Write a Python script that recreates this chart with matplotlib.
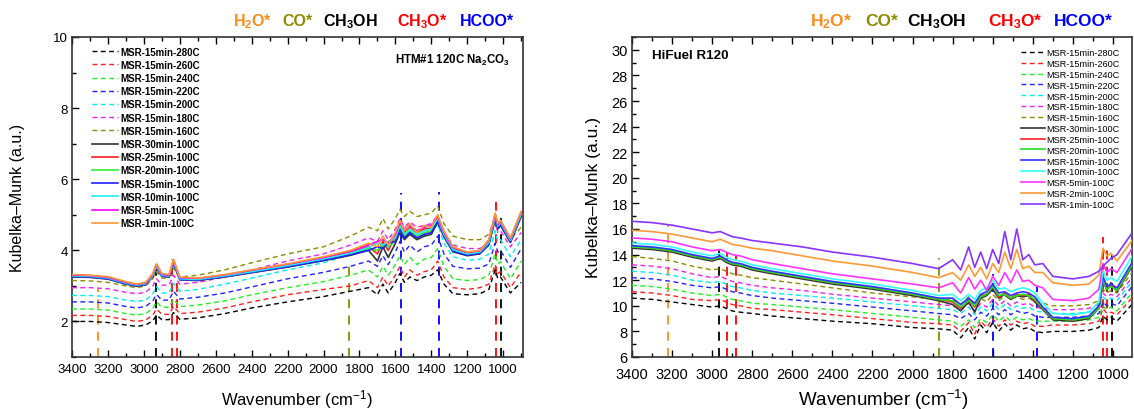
import matplotlib.pyplot as plt
from matplotlib.ticker import MultipleLocator

plt.rcParams['font.family'] = ['Liberation Sans', 'DejaVu Sans']
plt.rcParams['mathtext.fontset'] = 'custom'
plt.rcParams['mathtext.rm'] = 'Liberation Sans'
plt.rcParams['mathtext.bf'] = 'Liberation Sans:bold'
plt.rcParams['mathtext.it'] = 'Liberation Sans:italic'

# ---------------- left panel: HTM#1 120C Na2CO3 ----------------
wn_left = [3400, 3300, 3200, 3100, 3040, 2990, 2950, 2930, 2900, 2860,
           2835, 2800, 2700, 2550, 2400, 2200, 2000, 1850, 1750, 1700,
           1670, 1640, 1600, 1575, 1550, 1520, 1480, 1440, 1400, 1365,
           1330, 1280, 1200, 1130, 1080, 1045, 1030, 1015, 960, 900]

htm_15min_280C = [2.00, 2.00, 1.97, 1.90, 1.86, 1.90, 2.02, 2.18, 2.05, 2.05, 2.25, 2.06, 2.10, 2.22, 2.38, 2.55, 2.70, 2.85, 2.95, 2.75,
                  3.05, 2.80, 3.10, 3.35, 3.10, 3.25, 3.15, 3.25, 3.30, 3.45, 3.05, 2.78, 2.75, 2.78, 2.90, 3.45, 3.20, 3.25, 2.80, 3.10]
htm_15min_260C = [2.17, 2.17, 2.14, 2.05, 2.00, 2.04, 2.18, 2.35, 2.20, 2.20, 2.42, 2.22, 2.26, 2.38, 2.55, 2.75, 2.90, 3.00, 3.15, 2.95,
                  3.25, 3.00, 3.30, 3.55, 3.25, 3.45, 3.30, 3.40, 3.45, 3.70, 3.25, 2.95, 2.90, 2.95, 3.05, 3.60, 3.35, 3.40, 2.95, 3.40]
htm_15min_240C = [2.35, 2.35, 2.32, 2.22, 2.18, 2.22, 2.37, 2.55, 2.40, 2.40, 2.62, 2.42, 2.46, 2.58, 2.75, 2.95, 3.12, 3.30, 3.45, 3.25,
                  3.55, 3.30, 3.60, 3.85, 3.60, 3.80, 3.60, 3.75, 3.80, 4.05, 3.55, 3.20, 3.15, 3.18, 3.30, 3.90, 3.62, 3.68, 3.20, 3.70]
htm_15min_220C = [2.55, 2.55, 2.52, 2.42, 2.38, 2.42, 2.58, 2.76, 2.60, 2.60, 2.85, 2.63, 2.68, 2.80, 2.97, 3.20, 3.38, 3.55, 3.70, 3.55,
                  3.85, 3.60, 3.95, 4.25, 3.95, 4.15, 3.95, 4.10, 4.15, 4.40, 3.90, 3.55, 3.48, 3.50, 3.62, 4.20, 3.95, 4.00, 3.52, 4.05]
htm_15min_200C = [2.73, 2.73, 2.70, 2.60, 2.56, 2.60, 2.78, 2.98, 2.80, 2.80, 3.08, 2.85, 2.90, 3.05, 3.22, 3.45, 3.65, 3.88, 4.05, 3.95,
                  4.20, 4.00, 4.30, 4.60, 4.35, 4.50, 4.35, 4.40, 4.45, 4.75, 4.20, 3.82, 3.72, 3.75, 3.90, 4.55, 4.25, 4.30, 3.82, 4.30]
htm_15min_180C = [2.95, 2.95, 2.92, 2.82, 2.78, 2.82, 3.00, 3.20, 3.02, 3.02, 3.30, 3.05, 3.10, 3.25, 3.45, 3.70, 3.90, 4.15, 4.35, 4.25,
                  4.55, 4.30, 4.60, 4.90, 4.65, 4.80, 4.65, 4.70, 4.75, 5.00, 4.50, 4.15, 4.05, 4.05, 4.20, 4.80, 4.50, 4.55, 4.10, 4.50]
htm_15min_160C = [3.15, 3.14, 3.10, 3.00, 2.95, 3.00, 3.20, 3.40, 3.22, 3.22, 3.50, 3.25, 3.30, 3.45, 3.65, 3.90, 4.10, 4.40, 4.65, 4.55,
                  4.90, 4.60, 4.90, 5.15, 4.95, 5.10, 4.95, 5.00, 5.05, 5.25, 4.75, 4.40, 4.30, 4.30, 4.45, 4.95, 4.70, 4.75, 4.30, 4.65]
htm_30min_100C = [3.25, 3.24, 3.19, 3.05, 2.99, 3.03, 3.27, 3.50, 3.27, 3.25, 3.62, 3.17, 3.15, 3.25, 3.37, 3.53, 3.71, 3.86, 4.00, 3.70,
                  4.10, 3.80, 4.20, 4.50, 4.30, 4.45, 4.30, 4.40, 4.45, 4.80, 4.38, 3.96, 3.85, 3.90, 4.15, 4.88, 4.60, 4.70, 4.22, 4.95]
htm_25min_100C = [3.30, 3.28, 3.24, 3.10, 3.03, 3.08, 3.32, 3.60, 3.32, 3.30, 3.72, 3.22, 3.20, 3.30, 3.42, 3.60, 3.79, 3.95, 4.10, 3.90,
                  4.25, 4.00, 4.40, 4.75, 4.50, 4.65, 4.50, 4.60, 4.62, 4.95, 4.48, 4.05, 3.92, 3.97, 4.25, 5.02, 4.70, 4.80, 4.30, 5.05]
htm_20min_100C = [3.27, 3.26, 3.21, 3.07, 3.01, 3.05, 3.29, 3.54, 3.29, 3.27, 3.66, 3.19, 3.17, 3.27, 3.39, 3.56, 3.74, 3.90, 4.05, 4.00,
                  4.15, 4.10, 4.30, 4.65, 4.40, 4.55, 4.40, 4.50, 4.55, 4.88, 4.42, 4.00, 3.88, 3.93, 4.20, 4.92, 4.65, 4.75, 4.26, 5.00]
htm_15min_100C = [3.26, 3.25, 3.20, 3.06, 3.00, 3.04, 3.28, 3.52, 3.28, 3.26, 3.65, 3.18, 3.16, 3.26, 3.38, 3.54, 3.72, 3.88, 4.00, 4.10,
                  4.05, 4.20, 4.25, 4.60, 4.35, 4.50, 4.35, 4.45, 4.50, 4.85, 4.40, 3.98, 3.86, 3.92, 4.18, 4.90, 4.62, 4.72, 4.24, 4.98]
htm_10min_100C = [3.28, 3.27, 3.22, 3.08, 3.02, 3.06, 3.30, 3.55, 3.30, 3.28, 3.68, 3.20, 3.18, 3.28, 3.40, 3.57, 3.76, 3.92, 4.08, 4.20,
                  4.15, 4.25, 4.35, 4.70, 4.45, 4.60, 4.45, 4.55, 4.60, 4.90, 4.45, 4.02, 3.90, 3.95, 4.22, 4.95, 4.68, 4.78, 4.28, 5.02]
htm_5min_100C = [3.30, 3.29, 3.24, 3.10, 3.04, 3.08, 3.33, 3.60, 3.33, 3.30, 3.72, 3.23, 3.21, 3.31, 3.44, 3.61, 3.80, 3.98, 4.15, 4.25,
                 4.30, 4.20, 4.45, 4.80, 4.60, 4.70, 4.55, 4.65, 4.70, 4.95, 4.50, 4.08, 3.94, 3.99, 4.28, 5.00, 4.72, 4.82, 4.33, 5.08]
htm_1min_100C = [3.32, 3.30, 3.26, 3.12, 3.05, 3.10, 3.35, 3.62, 3.35, 3.32, 3.75, 3.25, 3.22, 3.32, 3.45, 3.62, 3.82, 4.00, 4.20, 4.10,
                 4.40, 4.15, 4.50, 4.85, 4.55, 4.75, 4.50, 4.70, 4.65, 5.00, 4.55, 4.10, 3.95, 4.00, 4.30, 5.05, 4.75, 4.85, 4.35, 5.10]

left_labels = ['MSR-15min-280C', 'MSR-15min-260C', 'MSR-15min-240C', 'MSR-15min-220C',
               'MSR-15min-200C', 'MSR-15min-180C', 'MSR-15min-160C', 'MSR-30min-100C',
               'MSR-25min-100C', 'MSR-20min-100C', 'MSR-15min-100C', 'MSR-10min-100C',
               'MSR-5min-100C', 'MSR-1min-100C']
left_series = [htm_15min_280C, htm_15min_260C, htm_15min_240C, htm_15min_220C,
               htm_15min_200C, htm_15min_180C, htm_15min_160C, htm_30min_100C,
               htm_25min_100C, htm_20min_100C, htm_15min_100C, htm_10min_100C,
               htm_5min_100C, htm_1min_100C]

# assignment markers (wavenumber, height reached)
left_mark_wn = [3255, 2934, 2845, 2817, 1859, 1570, 1357, 1041, 1013]
left_mark_top = [2.9, 3.5, 3.75, 3.2, 3.6, 5.6, 5.65, 5.35, 4.9]

# ---------------- right panel: HiFuel R120 ----------------
wn_right = [3400, 3300, 3200, 3100, 3000, 2960, 2930, 2900, 2860, 2800,
            2700, 2550, 2400, 2200, 2000, 1870, 1800, 1760, 1720, 1690,
            1660, 1630, 1600, 1570, 1540, 1510, 1480, 1450, 1420, 1390,
            1350, 1300, 1200, 1120, 1070, 1050, 1030, 1010, 980, 900]

hf_15min_280C = [10.6, 10.5, 10.3, 10.1, 9.9, 10.0, 9.8, 9.6, 9.5, 9.4, 9.2, 9.0, 8.8, 8.6, 8.3, 8.2, 8.1, 7.5, 8.3, 7.4,
                 8.5, 7.9, 8.7, 8.0, 8.6, 8.1, 8.5, 8.2, 8.3, 8.0, 7.9, 8.0, 8.0, 8.1, 8.3, 9.2, 8.9, 9.1, 8.8, 10.2]
hf_15min_260C = [11.1, 11.0, 10.8, 10.5, 10.4, 10.5, 10.3, 10.1, 10.0, 9.8, 9.7, 9.5, 9.3, 9.0, 8.7, 8.6, 8.5, 8.0, 8.7, 7.8,
                 8.8, 8.3, 9.0, 8.4, 8.9, 8.5, 8.8, 8.6, 8.7, 8.4, 8.4, 8.5, 8.5, 8.6, 8.8, 9.8, 9.4, 9.5, 9.3, 10.7]
hf_15min_240C = [11.6, 11.5, 11.3, 11.0, 10.8, 10.9, 10.7, 10.5, 10.4, 10.2, 10.1, 9.9, 9.7, 9.4, 9.1, 8.9, 8.8, 8.4, 8.9, 8.3,
                 9.0, 8.7, 9.3, 8.8, 9.2, 8.8, 9.1, 8.9, 9.0, 8.8, 8.8, 8.8, 8.8, 8.9, 9.1, 10.0, 9.7, 9.9, 9.6, 11.1]
hf_15min_220C = [12.2, 12.1, 11.9, 11.6, 11.4, 11.5, 11.3, 11.1, 11.0, 10.8, 10.6, 10.4, 10.2, 9.9, 9.6, 9.4, 9.3, 9.0, 9.4, 8.9,
                 9.5, 9.2, 9.8, 9.3, 9.7, 9.3, 9.6, 9.4, 9.5, 9.2, 9.1, 9.1, 9.1, 9.2, 9.4, 10.3, 10.0, 10.2, 10.0, 11.6]
hf_15min_200C = [12.7, 12.6, 12.4, 12.0, 11.8, 11.9, 11.7, 11.5, 11.4, 11.2, 11.0, 10.8, 10.6, 10.3, 10.0, 9.8, 9.7, 9.4, 9.9, 9.3,
                 9.9, 9.6, 10.2, 9.7, 10.1, 9.7, 10.0, 9.8, 9.9, 9.6, 9.5, 9.4, 9.4, 9.5, 9.8, 10.7, 10.4, 10.6, 10.4, 12.0]
hf_15min_180C = [13.2, 13.1, 12.9, 12.5, 12.2, 12.3, 12.1, 11.9, 11.8, 11.6, 11.4, 11.2, 10.9, 10.6, 10.3, 10.1, 10.0, 9.7, 10.2, 9.6,
                 10.2, 9.9, 10.5, 10.0, 10.4, 10.0, 10.3, 10.1, 10.2, 9.9, 9.8, 9.7, 9.7, 9.8, 10.1, 11.0, 10.7, 10.9, 10.7, 12.3]
hf_15min_160C = [13.85, 13.7, 13.5, 13.1, 12.8, 12.9, 12.7, 12.5, 12.4, 12.2, 12.0, 11.7, 11.4, 11.0, 10.7, 10.5, 10.5, 10.1, 10.7, 10.0,
                 10.6, 10.3, 10.9, 10.4, 10.8, 10.5, 10.7, 10.5, 10.6, 10.3, 10.2, 10.0, 10.0, 10.1, 10.4, 11.3, 11.0, 11.2, 11.0, 12.7]
hf_30min_100C = [14.5, 14.4, 14.2, 13.8, 13.5, 13.7, 13.4, 13.2, 13.1, 12.8, 12.5, 12.1, 11.7, 11.3, 10.8, 10.4, 10.1, 9.6, 10.3, 9.5,
                 10.6, 10.8, 11.3, 10.6, 10.9, 10.5, 10.8, 10.7, 10.8, 10.3, 9.7, 8.9, 8.8, 9.0, 9.8, 12.0, 11.2, 11.8, 11.1, 13.2]
hf_25min_100C = [14.6, 14.5, 14.3, 13.9, 13.6, 13.8, 13.5, 13.3, 13.2, 12.9, 12.6, 12.2, 11.8, 11.4, 10.9, 10.5, 10.3, 9.8, 10.5, 9.9,
                 10.8, 10.9, 11.5, 10.7, 11.0, 10.6, 10.9, 10.8, 10.9, 10.4, 9.8, 9.0, 8.9, 9.1, 9.9, 12.1, 11.3, 11.6, 11.2, 13.3]
hf_20min_100C = [14.6, 14.5, 14.3, 13.9, 13.6, 13.8, 13.5, 13.3, 13.2, 12.9, 12.6, 12.2, 11.8, 11.4, 10.9, 10.5, 10.4, 9.9, 10.4, 10.0,
                 10.7, 10.9, 11.5, 10.8, 10.9, 10.6, 10.8, 10.9, 10.8, 10.5, 9.8, 9.0, 8.9, 9.1, 9.8, 12.0, 11.3, 11.5, 11.2, 13.3]
hf_15min_100C = [14.7, 14.6, 14.4, 14.0, 13.7, 13.9, 13.6, 13.4, 13.3, 13.0, 12.7, 12.3, 11.9, 11.5, 11.0, 10.6, 10.6, 10.1, 10.6, 10.2,
                 10.9, 11.1, 11.7, 11.0, 11.1, 10.8, 11.0, 11.1, 11.0, 10.7, 9.9, 9.1, 9.0, 9.2, 10.0, 12.3, 11.5, 11.7, 11.4, 13.5]
hf_10min_100C = [14.9, 14.8, 14.6, 14.2, 13.9, 14.1, 13.8, 13.6, 13.5, 13.2, 12.9, 12.5, 12.1, 11.7, 11.2, 10.8, 10.9, 10.4, 10.9, 10.5,
                 11.2, 11.4, 12.0, 11.3, 11.4, 11.1, 11.3, 11.4, 11.3, 11.0, 10.2, 9.4, 9.3, 9.5, 10.3, 12.8, 12.0, 12.2, 11.9, 14.0]
hf_5min_100C = [15.3, 15.2, 15.0, 14.6, 14.3, 14.4, 14.2, 14.0, 13.9, 13.6, 13.3, 12.9, 12.5, 12.1, 11.7, 11.4, 11.8, 11.0, 12.2, 11.3,
                12.0, 11.2, 12.3, 11.6, 12.6, 11.8, 12.8, 11.9, 12.0, 11.6, 11.4, 10.5, 10.4, 10.6, 11.3, 13.3, 12.6, 12.9, 12.6, 14.6]
hf_2min_100C = [15.9, 15.8, 15.6, 15.3, 15.0, 15.2, 15.0, 14.8, 14.7, 14.5, 14.3, 13.9, 13.5, 13.1, 12.6, 12.2, 12.6, 12.0, 13.2, 12.3,
                13.0, 12.1, 13.3, 12.6, 14.2, 12.9, 14.4, 12.9, 13.1, 12.6, 12.6, 11.8, 11.6, 11.7, 12.4, 14.5, 13.9, 14.1, 13.5, 15.2]
hf_1min_100C = [16.6, 16.5, 16.3, 16.0, 15.7, 15.8, 15.6, 15.4, 15.3, 15.1, 14.9, 14.6, 14.2, 13.8, 13.3, 12.9, 13.6, 12.8, 14.6, 13.0,
                14.2, 12.9, 14.4, 13.3, 15.8, 13.6, 16.0, 13.6, 14.0, 13.2, 13.3, 12.3, 12.1, 12.3, 12.7, 13.1, 13.4, 13.7, 14.0, 15.8]

right_labels = ['MSR-15min-280C', 'MSR-15min-260C', 'MSR-15min-240C', 'MSR-15min-220C',
                'MSR-15min-200C', 'MSR-15min-180C', 'MSR-15min-160C', 'MSR-30min-100C',
                'MSR-25min-100C', 'MSR-20min-100C', 'MSR-15min-100C', 'MSR-10min-100C',
                'MSR-5min-100C', 'MSR-2min-100C', 'MSR-1min-100C']
right_series = [hf_15min_280C, hf_15min_260C, hf_15min_240C, hf_15min_220C,
                hf_15min_200C, hf_15min_180C, hf_15min_160C, hf_30min_100C,
                hf_25min_100C, hf_20min_100C, hf_15min_100C, hf_10min_100C,
                hf_5min_100C, hf_2min_100C, hf_1min_100C]

right_mark_wn = [3220, 2965, 2925, 2880, 1868, 1600, 1380, 1052, 1030, 1005]
right_mark_top = [16.3, 14.7, 14.2, 14.0, 13.7, 12.5, 11.5, 15.4, 14.5, 14.0]

species = ['H$_\\mathbf{2}$O*', 'CO*', 'CH$_\\mathbf{3}$OH', 'CH$_\\mathbf{3}$O*', 'HCOO*']

# ---------------- styles ----------------
ORANGE, OLIVE, RED, BLUE = '#ff8c1a', '#8c8c00', '#ff0000', '#0000ff'
dash_colors = ['#000000', '#ff2020', '#22ee22', '#2020ff', '#00eeee', '#ee22ee', '#8c8c00']
solid_colors_left = ['#333333', '#ff2020', '#33ee33', '#2020ff', '#22eeee', '#ff00ff', '#ff9933']
solid_colors_right = ['#333333', '#ff2020', '#22dd22', '#3333ff', '#33ffff', '#ff33ff', '#ff9933', '#8833ff']
left_mark_colors = [ORANGE, 'black', RED, RED, OLIVE, BLUE, BLUE, RED, 'black']
right_mark_colors = [ORANGE, 'black', RED, RED, OLIVE, BLUE, BLUE, RED, RED, 'black']
species_colors = [ORANGE, OLIVE, 'black', RED, BLUE]

fig = plt.figure(figsize=(11.34, 4.10), dpi=100)
axL = fig.add_axes([72 / 1134, 52 / 410, 451 / 1134, 320 / 410])
axR = fig.add_axes([632 / 1134, 52 / 410, 500 / 1134, 320 / 410])


def draw_panel(ax, wn, series, labels, solid_colors, mark_wn, mark_top, mark_colors, ymin):
    for wv, top, c in zip(mark_wn, mark_top, mark_colors):
        ax.vlines(wv, ymin, top, colors=c, linestyles=(0, (5, 4)), lw=1.3, zorder=1)
    colors = dash_colors + solid_colors
    for i, (vals, lab) in enumerate(zip(series, labels)):
        ls = (0, (3.5, 2.5)) if i < 7 else '-'
        lw = 1.0 if i < 7 else 1.2
        ax.plot(wn, vals, ls=ls, color=colors[i], lw=lw, label=lab, zorder=2 + i)


def style_axes(ax, xlim, ylim, fs, xpad):
    ax.set_xlim(3400, xlim)
    ax.set_ylim(*ylim)
    ax.xaxis.set_major_locator(MultipleLocator(200))
    ax.xaxis.set_minor_locator(MultipleLocator(100))
    ax.yaxis.set_major_locator(MultipleLocator(2))
    ax.yaxis.set_minor_locator(MultipleLocator(1))
    ax.tick_params(which='both', direction='in', top=True, right=False, labelsize=fs, pad=3)
    ax.tick_params(axis='x', which='both', pad=xpad)
    ax.tick_params(which='major', length=5, width=1)
    ax.tick_params(which='minor', length=3, width=1)
    for s in ax.spines.values():
        s.set_linewidth(1.2)
        s.set_color('#333333')


draw_panel(axL, wn_left, left_series, left_labels, solid_colors_left,
           left_mark_wn, left_mark_top, left_mark_colors, 1)
style_axes(axL, 890, (1, 10), 9.5, 4)
axL.legend(loc='upper left', bbox_to_anchor=(0.045, 0.97), frameon=False,
           prop={'weight': 'bold', 'size': 7}, handlelength=2.6, labelspacing=0.33,
           handletextpad=0.3, borderaxespad=0, borderpad=0)
axL.text(0.716, 0.931, 'HTM#1 120C Na$_\\mathbf{2}$CO$_\\mathbf{3}$', transform=axL.transAxes,
         fontsize=8.3, fontweight='bold', va='center', ha='left')

draw_panel(axR, wn_right, right_series, right_labels, solid_colors_right,
           right_mark_wn, right_mark_top, right_mark_colors, 6)
style_axes(axR, 905, (6, 31), 10.5, 7)
axR.legend(loc='upper right', bbox_to_anchor=(0.976, 0.965), frameon=False,
           prop={'size': 6.6}, handlelength=2.6, labelspacing=0.2,
           handletextpad=0.2, borderaxespad=0, borderpad=0)
axR.text(0.04, 0.944, 'HiFuel R120', transform=axR.transAxes,
         fontsize=9.6, fontweight='bold', va='center', ha='left')

# axis labels
fig.text(18 / 1134, 1 - 198 / 410, 'Kubelka\u2013Munk (a.u.)', rotation=90, fontsize=11.5,
         ha='center', va='center')
fig.text(593 / 1134, 1 - 198 / 410, 'Kubelka\u2013Munk (a.u.)', rotation=90, fontsize=12.5,
         ha='center', va='center')
fig.text(297 / 1134, 1 - 400 / 410, 'Wavenumber (cm$\\mathregular{^{-1}}$)', fontsize=12,
         ha='center', va='center')
fig.text(883 / 1134, 1 - 400 / 410, 'Wavenumber (cm$\\mathregular{^{-1}}$)', fontsize=13.5,
         ha='center', va='center')

# species labels above each panel
for xs, fs in (([253, 297, 350, 422, 487], 11.5), ([831, 882, 937, 1015, 1083], 12.5)):
    for x, lab, c in zip(xs, species, species_colors):
        fig.text(x / 1134, 1 - 22 / 410, lab, color=c, fontsize=fs, fontweight='bold',
                 ha='center', va='center')

fig.savefig('out.png', dpi=100)
